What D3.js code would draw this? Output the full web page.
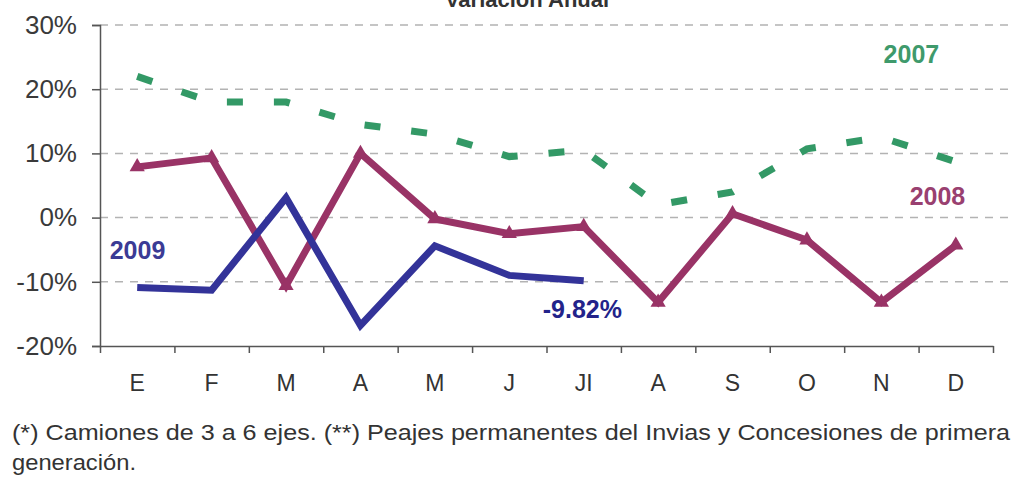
<!DOCTYPE html>
<html lang="es">
<head>
    <meta charset="UTF-8">
    <title>Variación Anual</title>
    <script src="https://d3js.org/d3.v7.min.js"></script>
    <style>
        body { margin: 0; background: #fff; }
        svg { display: block; font-family: "Liberation Sans", Arial, sans-serif; }
    </style>
</head>
<body>
    <svg id="chart" width="1013" height="478"></svg>

    <script>
        // month labels (Excel style, JI = julio)
        const months = ['E', 'F', 'M', 'A', 'M', 'J', 'JI', 'A', 'S', 'O', 'N', 'D'];
        const yTicks = [-20, -10, 0, 10, 20, 30];

        // variación anual, %
        const v2007 = [22, 18, 18, 14.5, 13, 9.5, 10.5, 2, 4, 10.7, 12.5, 8.7];
        const v2008 = [7.9, 9.3, -10.6, 10, -0.2, -2.5, -1.4, -13.2, 0.6, -3.5, -13.2, -4.3];
        const v2009 = [-10.9, -11.3, 3.1, -16.8, -4.4, -9.0, -9.82];

        const footnote1 = "(*) Camiones de 3 a 6 ejes.  (**) Peajes permanentes del Invias y Concesiones de primera";
        const footnote2 = "generación.";

        var svg = d3.select("#chart");

        var plot = {left: 100, right: 993, top: 25, bottom: 346};

        var x = d3.scaleBand()
            .domain(d3.range(months.length))
            .range([plot.left, plot.right]);
        var xl = d3.scaleLinear()
            .domain([0, months.length])
            .range([plot.left, plot.right]);
        var y = d3.scaleLinear()
            .domain([-20, 30])
            .range([plot.bottom, plot.top]);

        // title, mostly cut off at the top edge
        svg.append("text")
            .attr("x", 527).attr("y", 7)
            .attr("text-anchor", "middle")
            .attr("font-size", 22).attr("font-weight", "bold")
            .attr("fill", "#333")
            .text("Variación Anual");

        // dashed grid lines
        svg.append("g").selectAll("line")
            .data(yTicks.filter(d => d > -20))
            .join("line")
            .attr("x1", plot.left).attr("x2", 1013)
            .attr("y1", d => y(d)).attr("y2", d => y(d))
            .attr("stroke", "#b3b3b3")
            .attr("stroke-width", 1.5)
            .attr("stroke-dasharray", "8,7");

        // y axis
        var yAxis = svg.append("g")
            .attr("transform", "translate(" + plot.left + ",0)")
            .call(d3.axisLeft(y).tickValues(yTicks).tickFormat(d => d + "%").tickSize(8).tickPadding(15));
        yAxis.selectAll("text").attr("font-size", 26).attr("fill", "#3a3a3a");
        yAxis.selectAll("line, path").attr("stroke", "#555").attr("stroke-width", 1.5);
        yAxis.attr("font-family", null);

        // x axis: tick marks between months, labels centred
        var xTicks = svg.append("g")
            .attr("transform", "translate(0," + plot.bottom + ")")
            .call(d3.axisBottom(xl).tickValues(d3.range(months.length + 1)).tickFormat("").tickSizeInner(7).tickSizeOuter(0));
        xTicks.selectAll("line, path").attr("stroke", "#555").attr("stroke-width", 1.5);

        var xLabels = svg.append("g")
            .attr("transform", "translate(0," + plot.bottom + ")")
            .call(d3.axisBottom(x).tickFormat(i => months[i]).tickSize(0).tickPadding(29));
        xLabels.select(".domain").remove();
        xLabels.selectAll("text").attr("font-size", 23).attr("fill", "#333");
        xLabels.attr("font-family", null);

        var line = d3.line()
            .x((d, i) => x(i) + x.bandwidth() / 2)
            .y(d => y(d));

        // 2007
        svg.append("path")
            .datum(v2007)
            .attr("d", line)
            .attr("fill", "none")
            .attr("stroke", "#339966")
            .attr("stroke-width", 7)
            .attr("stroke-dasharray", "16,31");

        // 2008
        svg.append("path")
            .datum(v2008)
            .attr("d", line)
            .attr("fill", "none")
            .attr("stroke", "#993366")
            .attr("stroke-width", 7)
            .attr("stroke-linejoin", "miter");
        svg.append("g").selectAll("path")
            .data(v2008)
            .join("path")
            .attr("transform", (d, i) => "translate(" + (x(i) + x.bandwidth() / 2) + "," + y(d) + ")")
            .attr("d", d3.symbol(d3.symbolTriangle, 100))
            .attr("fill", "#993366");

        // 2009
        svg.append("path")
            .datum(v2009)
            .attr("d", line)
            .attr("fill", "none")
            .attr("stroke", "#333399")
            .attr("stroke-width", 7)
            .attr("stroke-linejoin", "miter");

        // series labels
        function label(text, pos, val, color) {
            svg.append("text")
                .attr("x", xl(pos)).attr("y", y(val))
                .attr("font-size", 25).attr("font-weight", "bold")
                .attr("fill", color)
                .text(text);
        }
        label("2007", 10.53, 24.1, "#3f9a6c");
        label("2008", 10.88, 1.9, "#994070");
        label("2009", 0.13, -6.4, "#3b3b95");
        label("-9.82%", 5.95, -15.6, "#23238a");

        // footnote
        svg.append("text")
            .attr("x", 12).attr("y", 440)
            .attr("font-size", 21.5).attr("fill", "#333")
            .attr("textLength", 998).attr("lengthAdjust", "spacingAndGlyphs")
            .text(footnote1);
        svg.append("text")
            .attr("x", 12).attr("y", 470)
            .attr("font-size", 21.5).attr("fill", "#333")
            .attr("textLength", 124).attr("lengthAdjust", "spacingAndGlyphs")
            .text(footnote2);
    </script>
</body>
</html>
